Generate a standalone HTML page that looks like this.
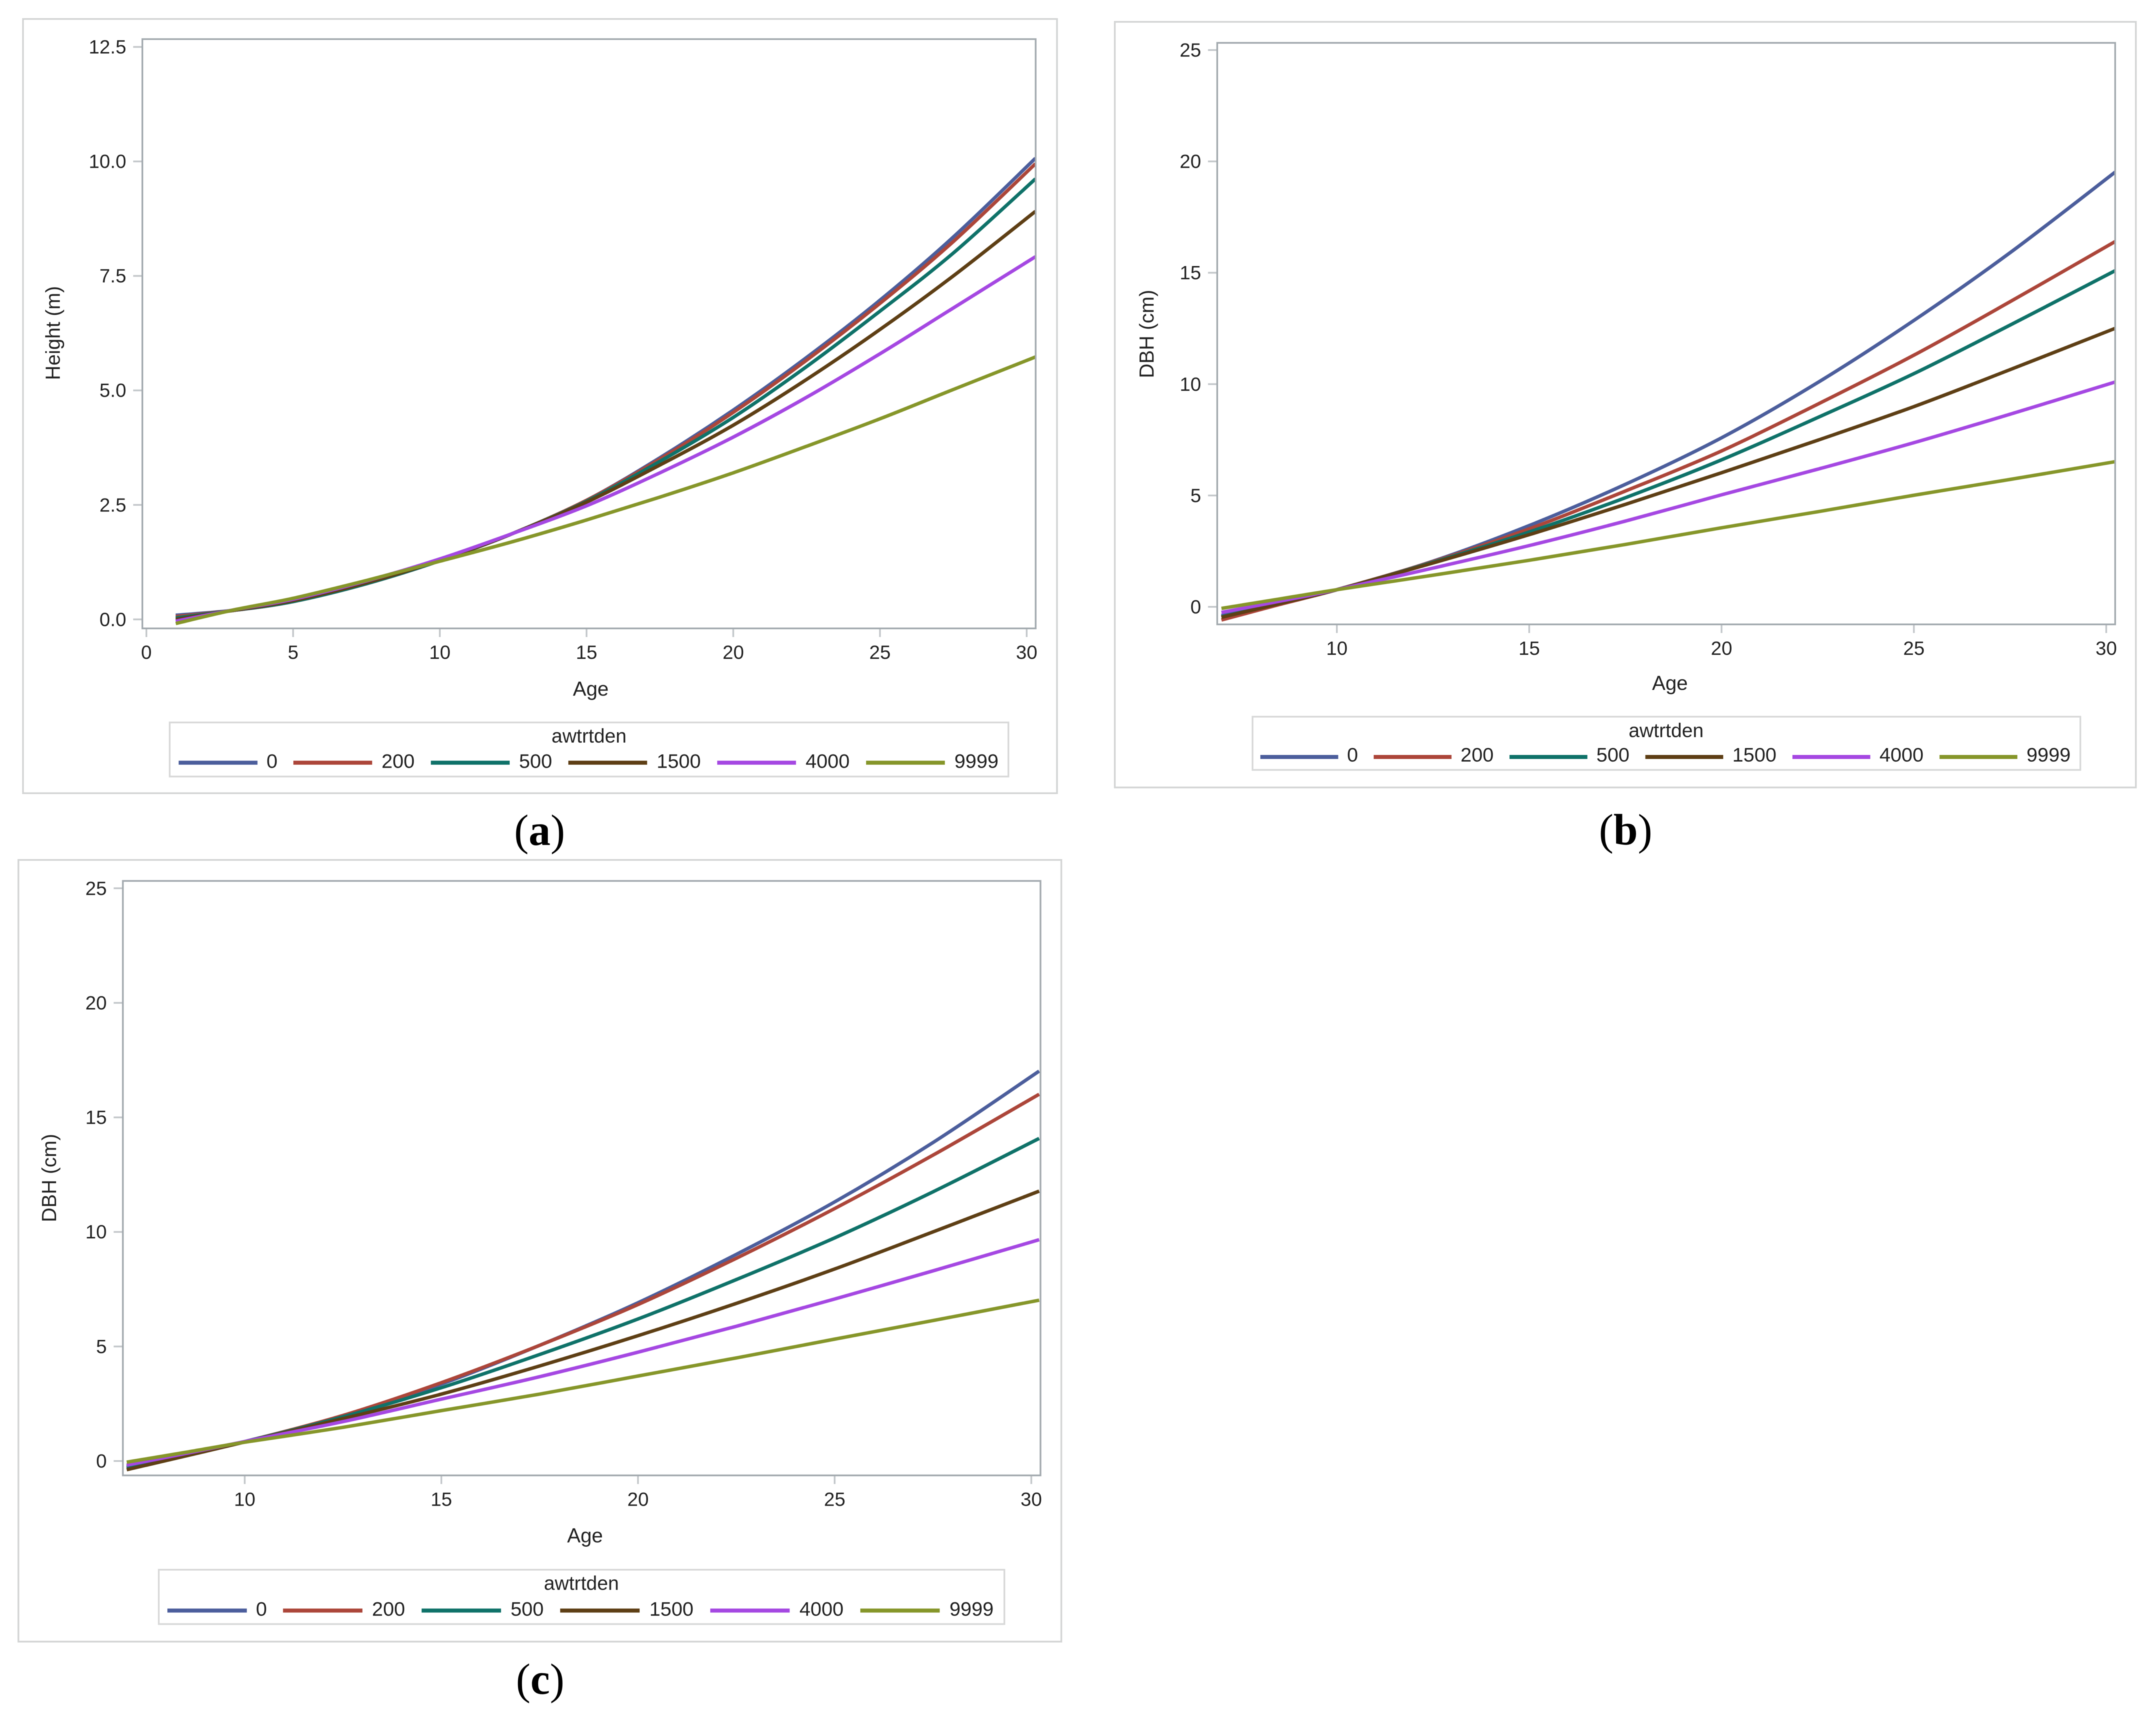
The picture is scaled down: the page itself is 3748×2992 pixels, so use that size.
<!DOCTYPE html>
<html lang="en">
<head>
<meta charset="utf-8">
<title>Height and DBH by age and awtrtden</title>
<style>
html,body{margin:0;padding:0;background:#fff;}
svg{display:block;filter:blur(0.8px);}
text{font-family:"Liberation Sans",Arial,sans-serif;fill:#222;}
.cap{font-family:"Liberation Serif","Times New Roman",serif;fill:#000;font-size:76px;}
</style>
</head>
<body>
<svg id="figure" xmlns="http://www.w3.org/2000/svg" width="3748" height="2992" viewBox="0 0 3748 2992">
  <rect width="3748" height="2992" fill="#ffffff"/>
  <text class="cap" x="938" y="1469" text-anchor="middle">(<tspan font-weight="bold">a</tspan>)</text>
  <text class="cap" x="2826" y="1468" text-anchor="middle">(<tspan font-weight="bold">b</tspan>)</text>
  <text class="cap" x="939" y="2945" text-anchor="middle">(<tspan font-weight="bold">c</tspan>)</text>
</svg>
<script>
// Shared legend categories and colours
const densities = ['0', '200', '500', '1500', '4000', '9999'];
const seriesColors = ['#4C5E9C', '#AC463A', '#0F7269', '#5E3F15', '#A548E2', '#86962A'];

// Panel (a): Height (m)
const aAges = [1, 3, 5, 7.5, 10, 12.5, 15, 17.5, 20, 22.5, 25, 27.5, 30.3];
const aXTicks = ['0', '5', '10', '15', '20', '25', '30'];
const aYTicks = ['0.0', '2.5', '5.0', '7.5', '10.0', '12.5'];
const aSeries0 = [0.09, 0.2, 0.39, 0.78, 1.28, 1.88, 2.6, 3.53, 4.57, 5.72, 6.97, 8.35, 10.07];
const aSeries200 = [0.06, 0.2, 0.39, 0.78, 1.28, 1.88, 2.6, 3.5, 4.52, 5.66, 6.9, 8.25, 9.95];
const aSeries500 = [0.03, 0.2, 0.39, 0.78, 1.28, 1.88, 2.58, 3.45, 4.41, 5.52, 6.73, 8.0, 9.62];
const aSeries1500 = [0, 0.2, 0.41, 0.8, 1.29, 1.88, 2.56, 3.37, 4.24, 5.24, 6.33, 7.5, 8.91];
const aSeries4000 = [-0.04, 0.21, 0.44, 0.84, 1.32, 1.88, 2.48, 3.2, 3.98, 4.85, 5.8, 6.8, 7.92];
const aSeries9999 = [-0.09, 0.21, 0.46, 0.85, 1.27, 1.7, 2.17, 2.67, 3.2, 3.78, 4.38, 5.02, 5.73];

// Panel (b): DBH (cm)
const bAges = [7, 8.5, 10, 12.5, 15, 17.5, 20, 22.5, 25, 27.5, 30.24];
const bXTicks = ['10', '15', '20', '25', '30'];
const bYTicks = ['0', '5', '10', '15', '20', '25'];
const bSeries0 = [-0.39, 0.18, 0.77, 2.05, 3.65, 5.5, 7.59, 10.07, 12.86, 15.9, 19.53];
const bSeries200 = [-0.59, 0.1, 0.77, 2.03, 3.5, 5.2, 7.0, 9.1, 11.3, 13.7, 16.41];
const bSeries500 = [-0.45, 0.15, 0.77, 2.0, 3.36, 4.9, 6.6, 8.5, 10.47, 12.65, 15.1];
const bSeries1500 = [-0.47, 0.14, 0.77, 1.97, 3.24, 4.6, 6.02, 7.48, 8.99, 10.65, 12.51];
const bSeries4000 = [-0.25, 0.25, 0.77, 1.74, 2.75, 3.85, 5.03, 6.18, 7.37, 8.65, 10.1];
const bSeries9999 = [-0.07, 0.35, 0.77, 1.42, 2.09, 2.8, 3.55, 4.27, 5.01, 5.72, 6.52];

// Panel (c): DBH (cm)
const cAges = [7, 8.5, 10, 12.5, 15, 17.5, 20, 22.5, 25, 27.5, 30.2];
const cXTicks = ['10', '15', '20', '25', '30'];
const cYTicks = ['0', '5', '10', '15', '20', '25'];
const cSeries0 = [-0.22, 0.3, 0.85, 1.97, 3.36, 5.05, 6.91, 9.02, 11.31, 13.9, 17.02];
const cSeries200 = [-0.33, 0.25, 0.84, 1.99, 3.42, 5.05, 6.83, 8.85, 11.02, 13.35, 16.01];
const cSeries500 = [-0.28, 0.28, 0.84, 1.93, 3.2, 4.65, 6.2, 7.92, 9.74, 11.75, 14.08];
const cSeries1500 = [-0.38, 0.22, 0.83, 1.85, 2.92, 4.15, 5.47, 6.88, 8.38, 10.0, 11.78];
const cSeries4000 = [-0.18, 0.33, 0.85, 1.72, 2.7, 3.68, 4.75, 5.88, 7.07, 8.3, 9.66];
const cSeries9999 = [-0.05, 0.38, 0.82, 1.47, 2.2, 2.92, 3.71, 4.5, 5.32, 6.13, 7.02];

const NS = 'http://www.w3.org/2000/svg';
const root = document.getElementById('figure');

function make(parent, tag, props, content) {
  const node = document.createElementNS(NS, tag);
  Object.keys(props).forEach(function (k) { node.setAttribute(k, props[k]); });
  if (content !== undefined) node.textContent = content;
  parent.appendChild(node);
  return node;
}

function curvePath(xs, ys) {
  let d = 'M' + xs[0].toFixed(2) + ' ' + ys[0].toFixed(2);
  for (let i = 0; i < xs.length - 1; i++) {
    const x0 = xs[Math.max(i - 1, 0)], y0 = ys[Math.max(i - 1, 0)];
    const x1 = xs[i], y1 = ys[i], x2 = xs[i + 1], y2 = ys[i + 1];
    const x3 = xs[Math.min(i + 2, xs.length - 1)], y3 = ys[Math.min(i + 2, ys.length - 1)];
    d += 'C' + (x1 + (x2 - x0) / 6).toFixed(2) + ' ' + (y1 + (y2 - y0) / 6).toFixed(2) + ' ' +
      (x2 - (x3 - x1) / 6).toFixed(2) + ' ' + (y2 - (y3 - y1) / 6).toFixed(2) + ' ' +
      x2.toFixed(2) + ' ' + y2.toFixed(2);
  }
  return d;
}

function drawPanel(p) {
  const xScale = function (v) { return p.xPx0 + (v - p.xVal0) * (p.xPx1 - p.xPx0) / (p.xVal1 - p.xVal0); };
  const yScale = function (v) { return p.yPx0 + v * (p.yPx1 - p.yPx0) / p.yVal1; };

  const g = make(root, 'g', {});
  
  

  const panelBox = make(g, 'rect', { x: p.left, y: p.top, width: p.right - p.left, height: p.bottom - p.top, fill: '#fff', stroke: '#d3d5d5', 'stroke-width': 3 });
  
  

  const clip = make(g, 'clipPath', { id: 'clip-' + p.id });
  make(clip, 'rect', { x: p.pLeft, y: p.pTop, width: p.pRight - p.pLeft, height: p.pBottom - p.pTop });

  p.yTicks.forEach(function (label) {
    const y = yScale(parseFloat(label));
    const tick = make(g, 'line', { x1: p.pLeft - 16, x2: p.pLeft, y1: y, y2: y, stroke: '#c3c7ca', 'stroke-width': 3 });
    
    
    const text = make(g, 'text', { x: p.pLeft - 28, y: y + 1, 'text-anchor': 'end', 'dominant-baseline': 'central', 'font-size': 33.5 }, label);
    
    
  });

  p.xTicks.forEach(function (label) {
    const x = xScale(parseFloat(label));
    const tick = make(g, 'line', { x1: x, x2: x, y1: p.pBottom, y2: p.pBottom + 15, stroke: '#c3c7ca', 'stroke-width': 3 });
    
    
    const text = make(g, 'text', { x: x, y: p.xLabelY, 'text-anchor': 'middle', 'dominant-baseline': 'central', 'font-size': 33.5 }, label);
    
    
  });

  p.series.forEach(function (values, i) {
    const xs = p.ages.map(xScale);
    const ys = values.map(yScale);
    const curve = make(g, 'path', { d: curvePath(xs, ys), fill: 'none', stroke: seriesColors[i], 'stroke-width': 6, 'clip-path': 'url(#clip-' + p.id + ')' });
    
    
  });

  const frame = make(g, 'rect', { x: p.pLeft, y: p.pTop, width: p.pRight - p.pLeft, height: p.pBottom - p.pTop, fill: 'none', stroke: '#a3aaaf', 'stroke-width': 3 });
  
  

  const yTitle = make(g, 'text', { x: p.yTitleX, y: p.yTitleY, transform: 'rotate(-90 ' + p.yTitleX + ' ' + p.yTitleY + ')', 'text-anchor': 'middle', 'dominant-baseline': 'central', 'font-size': 35 }, p.yTitle);
  
  

  const xTitle = make(g, 'text', { x: p.xTitleX, y: p.xTitleY, 'text-anchor': 'middle', 'dominant-baseline': 'central', 'font-size': 35 }, 'Age');
  
  

  const legend = make(g, 'g', {});
  
  

  const legendBox = make(legend, 'rect', { x: p.lLeft, y: p.lTop, width: p.lRight - p.lLeft, height: p.lBottom - p.lTop, fill: '#fff', stroke: '#d8d9d9', 'stroke-width': 3 });
  
  

  const legendTitle = make(legend, 'text', { x: p.lTitleX, y: p.lTitleY, 'text-anchor': 'middle', 'dominant-baseline': 'central', 'font-size': 34 }, 'awtrtden');
  
  

  let cursor = p.lStart;
  densities.forEach(function (label, i) {
    const n = label.length;
    const swatchW = 137 * p.lScale;
    const swatch = make(legend, 'line', { x1: cursor, x2: cursor + swatchW, y1: p.lSwatchY, y2: p.lSwatchY, stroke: seriesColors[i], 'stroke-width': 7 });
    
    
    const text = make(legend, 'text', { x: cursor + swatchW + (15.3 + 9.9 * n) * p.lScale, y: p.lLabelY, 'text-anchor': 'middle', 'dominant-baseline': 'central', 'font-size': 34.5 }, label);
    
    
    cursor += (179.6 + 19.8 * n) * p.lScale;
  });
}

drawPanel({
  id: 'a', ages: aAges, xTicks: aXTicks, yTicks: aYTicks, yTitle: 'Height (m)',
  series: [aSeries0, aSeries200, aSeries500, aSeries1500, aSeries4000, aSeries9999],
  left: 40, top: 33, right: 1837.5, bottom: 1379,
  pLeft: 247.5, pTop: 68, pRight: 1800.4, pBottom: 1092.5,
  xVal0: 0, xVal1: 30, xPx0: 254.5, xPx1: 1784.8, yPx0: 1076.8, yPx1: 81.6, yVal1: 12.5,
  xLabelY: 1135, yTitleX: 92.5, yTitleY: 579, xTitleX: 1027, xTitleY: 1198,
  lLeft: 295, lTop: 1256, lRight: 1753, lBottom: 1350, lTitleX: 1024, lTitleY: 1280,
  lStart: 310.6, lScale: 1, lSwatchY: 1326, lLabelY: 1324
});

drawPanel({
  id: 'b', ages: bAges, xTicks: bXTicks, yTicks: bYTicks, yTitle: 'DBH (cm)',
  series: [bSeries0, bSeries200, bSeries500, bSeries1500, bSeries4000, bSeries9999],
  left: 1938, top: 38, right: 3713, bottom: 1369,
  pLeft: 2116, pTop: 74.5, pRight: 3677, pBottom: 1085.5,
  xVal0: 10, xVal1: 30, xPx0: 2324, xPx1: 3661.5, yPx0: 1055, yPx1: 87, yVal1: 25,
  xLabelY: 1128, yTitleX: 1994, yTitleY: 580.6, xTitleX: 2903, xTitleY: 1188,
  lLeft: 2177.4, lTop: 1246, lRight: 3616.5, lBottom: 1338.5, lTitleX: 2896.4, lTitleY: 1270.7,
  lStart: 2191, lScale: 0.988, lSwatchY: 1316, lLabelY: 1313
});

drawPanel({
  id: 'c', ages: cAges, xTicks: cXTicks, yTicks: cYTicks, yTitle: 'DBH (cm)',
  series: [cSeries0, cSeries200, cSeries500, cSeries1500, cSeries4000, cSeries9999],
  left: 32, top: 1495, right: 1845, bottom: 2854,
  pLeft: 213.6, pTop: 1531.5, pRight: 1808.8, pBottom: 2565,
  xVal0: 10, xVal1: 30, xPx0: 425.4, xPx1: 1792.8, yPx0: 2540, yPx1: 1544.3, yVal1: 25,
  xLabelY: 2607.6, yTitleX: 86, yTitleY: 2048, xTitleX: 1017, xTitleY: 2670,
  lLeft: 276, lTop: 2729, lRight: 1746, lBottom: 2823.5, lTitleX: 1010.7, lTitleY: 2753,
  lStart: 291, lScale: 1.008, lSwatchY: 2800, lLabelY: 2798
});
</script>
</body>
</html>
